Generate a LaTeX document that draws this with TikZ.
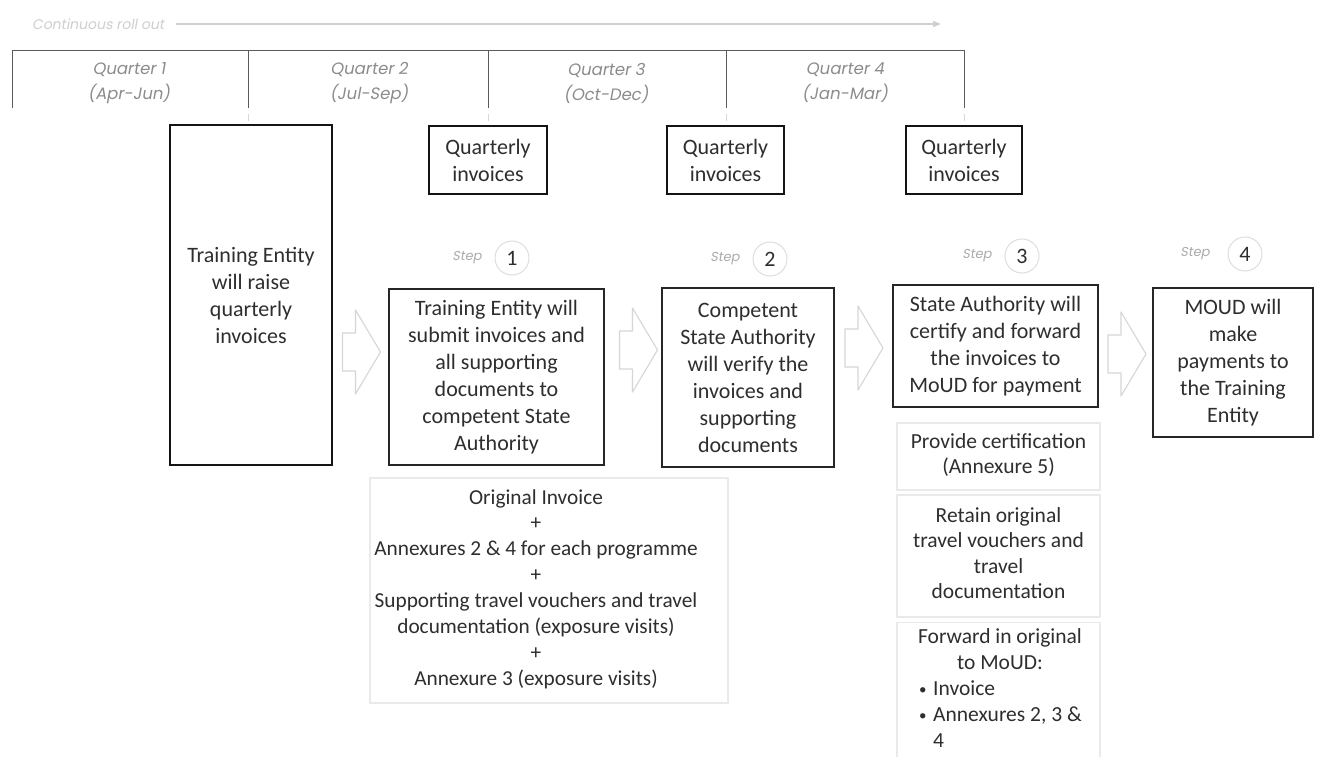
\documentclass[tikz,border=0pt]{standalone}
\usepackage{fontspec}
\setmainfont{Carlito}
\newfontfamily\qfont[FakeSlant=0.18]{Poppins}
\usetikzlibrary{arrows.meta}
\definecolor{ink}{HTML}{2E2E2E}
\definecolor{tl}{HTML}{5A5A5A}
\definecolor{qgray}{HTML}{8C8C8C}
\definecolor{faint}{HTML}{CFCFCF}
\definecolor{lbox}{HTML}{EAEAEA}
\definecolor{arrowgray}{HTML}{D6D6D6}
\newcommand{\smallbullet}{\makebox[14pt][l]{\raisebox{1pt}{\fontsize{15}{15}\selectfont•}}}
\begin{document}
\begin{tikzpicture}[x=1pt,y=-1pt,
  txt/.style={text=ink, font=\fontsize{22}{27}\selectfont, align=center, inner sep=0pt},
  thickbox/.style={txt, draw=black!92, line width=2.6pt},
  stepbox/.style={txt, draw=black!85, line width=1.4pt},
  lightbox/.style={draw=lbox, line width=1.2pt, inner sep=0pt},
  lighttxt/.style={txt, font=\fontsize{21.5}{25.8}\selectfont},
  qlab/.style={text=qgray, font=\qfont\fontsize{16.5}{25}\selectfont, align=center, inner sep=0pt},
  steplab/.style={text=black!33, font=\qfont\fontsize{13}{15}\selectfont, inner sep=0pt},
  stepcirc/.style={circle, draw=black!13, line width=1pt, minimum size=34pt, inner sep=0pt, text=ink, font=\fontsize{22}{24}\selectfont},
  arrowline/.style={draw=arrowgray, line width=1.1pt, line join=round},
  blockarrow/.pic={\draw[arrowline] (-19,-19) -- (-6,-19) -- (-6,-42) -- (19,0) -- (-6,42) -- (-6,19) -- (-19,19) -- cycle;}
]
\useasboundingbox[fill=white] (0,0) rectangle (1317,757);

% ---- roll-out arrow ----
\node[anchor=west, text=faint, font=\qfont\fontsize{14}{16}\selectfont, inner sep=0pt] (roll) at (32,24) {Continuous roll out};
\coordinate (rollend) at (941,24);
\draw[faint, line width=1.3pt, -{Triangle[length=8pt,width=6pt]}] ([xshift=12pt]roll.east) -- (rollend);

% ---- quarter bracket ----
\coordinate (t0) at (12,51);  \coordinate (b0) at (12,108);
\coordinate (t1) at (248,51); \coordinate (b1) at (248,108);
\coordinate (t2) at (488,51); \coordinate (b2) at (488,108);
\coordinate (t3) at (726,51); \coordinate (b3) at (726,108);
\coordinate (t4) at (964,51); \coordinate (b4) at (964,108);
\draw[tl, line width=1pt] (b0) -- (t0) -- (t4) -- (b4);
\draw[tl, line width=1pt] (t1) -- (b1) (t2) -- (b2) (t3) -- (b3);
\foreach \x in {248,488,726,964} \draw[black!15, line width=1pt] (\x,114) -- (\x,121);

\node[qlab] (q1) at (129,83) {Quarter 1\\(Apr-Jun)};
\node[qlab] (q2) at (369,83) {Quarter 2\\(Jul-Sep)};
\node[qlab] (q3) at (606,83) {Quarter 3\\(Oct-Dec)};
\node[qlab] (q4) at (845,83) {Quarter 4\\(Jan-Mar)};

% ---- main boxes ----
\node[thickbox, minimum width=162pt, minimum height=340pt] (raise) at (251,295) {Training Entity\\will raise\\quarterly\\invoices};

\node[thickbox, minimum width=118pt, minimum height=68pt] (qi1) at (488,160) {Quarterly\\invoices};
\node[thickbox, minimum width=117pt, minimum height=68pt] (qi2) at (725.5,160) {Quarterly\\invoices};
\node[thickbox, minimum width=116pt, minimum height=68pt] (qi3) at (964,160) {Quarterly\\invoices};

\node[stepbox, minimum width=215pt, minimum height=176pt] (s1box) at (496.5,377) {Training Entity will\\submit invoices and\\all supporting\\documents to\\competent State\\Authority};
\node[stepbox, minimum width=172pt, minimum height=179pt] (s2box) at (748,377.5) {Competent\\State Authority\\will verify the\\invoices and\\supporting\\documents};
\node[stepbox, minimum width=205pt, minimum height=122pt] (s3box) at (995.5,346) {State Authority will\\certify and forward\\the invoices to\\MoUD for payment};
\node[stepbox, minimum width=160pt, minimum height=149pt] (s4box) at (1233,362.5) {MOUD will\\make\\payments to\\the Training\\Entity};

% ---- step labels ----
\node[steplab] (sl1) at (467,258) {Step};  \node[stepcirc] (c1) at (512,258) {1};
\node[steplab] (sl2) at (725,259) {Step};  \node[stepcirc] (c2) at (770,259) {2};
\node[steplab] (sl3) at (977,256) {Step};  \node[stepcirc] (c3) at (1022,256) {3};
\node[steplab] (sl4) at (1195,254) {Step}; \node[stepcirc] (c4) at (1245,254) {4};

% ---- block arrows ----
\pic at (361.5,352) {blockarrow};
\pic at (638.5,350) {blockarrow};
\pic at (864,348) {blockarrow};
\pic at (1127,354) {blockarrow};

% ---- documents box under step 1 ----
\node[lightbox, minimum width=358pt, minimum height=225pt] (annex) at (549,590.5) {};
\node[lighttxt, font=\fontsize{21.3}{25.9}\selectfont] (annext) at (536,589) {Original Invoice\\+\\Annexures 2 \& 4 for each programme\\+\\Supporting travel vouchers and travel\\documentation (exposure visits)\\+\\Annexure 3 (exposure visits)};

% ---- boxes under step 3 ----
\node[lightbox, minimum width=203pt, minimum height=67pt] (cert) at (998.5,456.5) {};
\node[lighttxt] (certt) at (998.5,455) {Provide certification\\(Annexure 5)};
\node[lightbox, minimum width=203pt, minimum height=122pt] (retain) at (998.5,556) {};
\node[lighttxt, font=\fontsize{21.5}{25.3}\selectfont] (retaint) at (998.5,553) {Retain original\\travel vouchers and\\travel\\documentation};
\node[lightbox, minimum width=203pt, minimum height=150pt, anchor=north] (fwd) at (998.5,622) {};
\node[lighttxt] (fwdt) at (1000,649) {Forward in original\\to MoUD:};
\node[lighttxt, align=left, anchor=west, font=\fontsize{21.5}{25.8}\selectfont] (fwdl) at (919,714) {\smallbullet Invoice\\\smallbullet Annexures 2, 3 \&\\\hspace*{14pt}4};
\end{tikzpicture}
\end{document}
